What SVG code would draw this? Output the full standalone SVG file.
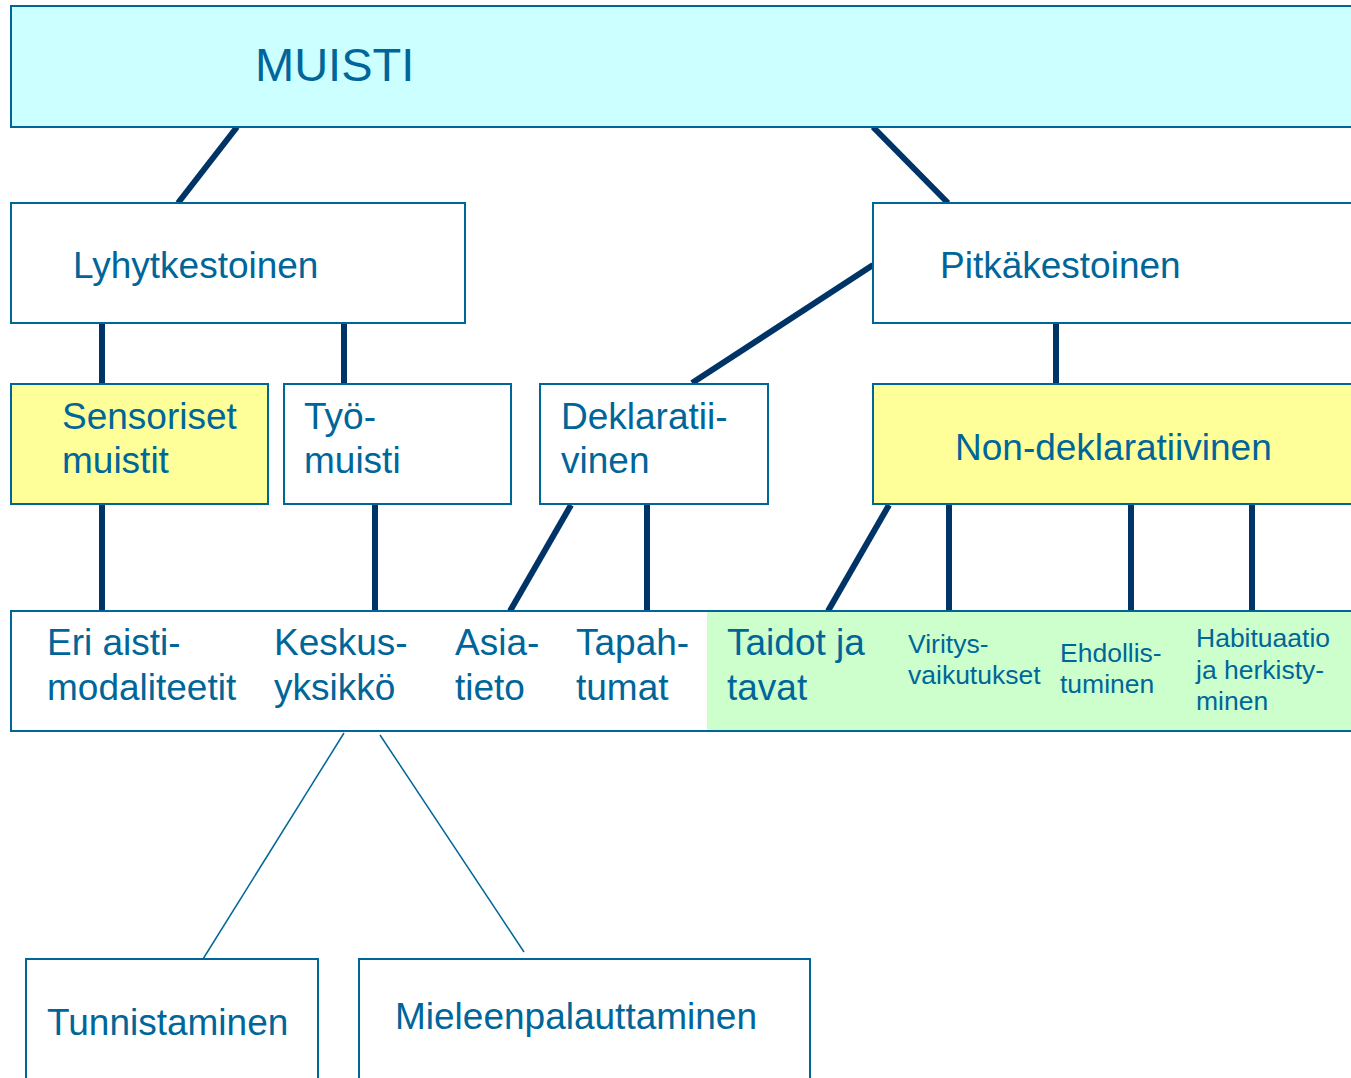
<svg xmlns="http://www.w3.org/2000/svg" width="1351" height="1078" viewBox="0 0 1351 1078">
<style>
.box{stroke:#006699;stroke-width:2}
.t{font-family:"Liberation Sans",Arial,sans-serif;fill:#006699;font-size:37px}
.s{font-size:26.5px}
.thick{stroke:#003366;stroke-width:6;fill:none}
.thin{stroke:#006699;stroke-width:1.5;fill:none}
</style>
<rect width="1351" height="1078" fill="#ffffff"/>
<g id="connectors">
<line class="thick" x1="237" y1="127" x2="178" y2="203"/>
<line class="thick" x1="873" y1="127" x2="948" y2="203"/>
<line class="thick" x1="873" y1="265" x2="692" y2="383"/>
<line class="thick" x1="1056" y1="323" x2="1056" y2="384"/>
<line class="thick" x1="102" y1="323" x2="102" y2="384"/>
<line class="thick" x1="344" y1="323" x2="344" y2="384"/>
<line class="thick" x1="102" y1="504" x2="102" y2="611"/>
<line class="thick" x1="375" y1="504" x2="375" y2="611"/>
<line class="thick" x1="571" y1="505" x2="510" y2="611"/>
<line class="thick" x1="647" y1="504" x2="647" y2="611"/>
<line class="thick" x1="889" y1="505" x2="828" y2="611"/>
<line class="thick" x1="949" y1="504" x2="949" y2="611"/>
<line class="thick" x1="1131" y1="504" x2="1131" y2="611"/>
<line class="thick" x1="1252" y1="504" x2="1252" y2="611"/>
<line class="thin" x1="344" y1="733" x2="203" y2="959"/>
<line class="thin" x1="380" y1="735" x2="524" y2="952"/>
</g>
<g id="muisti">
<rect class="box" x="11" y="6" width="1350" height="121" fill="#CCFFFF"/>
<text class="t" x="255" y="81" style="font-size:47px">MUISTI</text>
</g>
<g id="lyhytkestoinen">
<rect class="box" x="11" y="203" width="454" height="120" fill="#ffffff"/>
<text class="t" x="73" y="278">Lyhytkestoinen</text>
</g>
<g id="pitkakestoinen">
<rect class="box" x="873" y="203" width="488" height="120" fill="#ffffff"/>
<text class="t" x="940" y="278">Pitkäkestoinen</text>
</g>
<g id="sensoriset">
<rect class="box" x="11" y="384" width="257" height="120" fill="#FFFF99"/>
<text class="t" x="62" y="429">Sensoriset</text>
<text class="t" x="62" y="473">muistit</text>
</g>
<g id="tyomuisti">
<rect class="box" x="284" y="384" width="227" height="120" fill="#ffffff"/>
<text class="t" x="304" y="429">Työ-</text>
<text class="t" x="304" y="473">muisti</text>
</g>
<g id="deklaratiivinen">
<rect class="box" x="540" y="384" width="228" height="120" fill="#ffffff"/>
<text class="t" x="561" y="429">Deklaratii-</text>
<text class="t" x="561" y="473">vinen</text>
</g>
<g id="nondeklaratiivinen">
<rect class="box" x="873" y="384" width="488" height="120" fill="#FFFF99"/>
<text class="t" x="955" y="460">Non-deklaratiivinen</text>
</g>
<g id="row4">
<rect x="11" y="611" width="1350" height="120" fill="#ffffff"/>
<rect x="707" y="612" width="654" height="118" fill="#CCFFCC"/>
<rect class="box" x="11" y="611" width="1350" height="120" fill="none"/>
</g>
<g id="eri-aistimodaliteetit">
<text class="t" x="47" y="655">Eri aisti-</text>
<text class="t" x="47" y="700">modaliteetit</text>
</g>
<g id="keskusyksikko">
<text class="t" x="274" y="655">Keskus-</text>
<text class="t" x="274" y="700">yksikkö</text>
</g>
<g id="asiatieto">
<text class="t" x="455" y="655">Asia-</text>
<text class="t" x="455" y="700">tieto</text>
</g>
<g id="tapahtumat">
<text class="t" x="576" y="655">Tapah-</text>
<text class="t" x="576" y="700">tumat</text>
</g>
<g id="taidot">
<text class="t" x="727" y="655">Taidot ja</text>
<text class="t" x="727" y="700">tavat</text>
</g>
<g id="viritysvaikutukset">
<text class="t s" x="908" y="653">Viritys-</text>
<text class="t s" x="908" y="684">vaikutukset</text>
</g>
<g id="ehdollistuminen">
<text class="t s" x="1060" y="662">Ehdollis-</text>
<text class="t s" x="1060" y="693">tuminen</text>
</g>
<g id="habituaatio">
<text class="t s" x="1196" y="647">Habituaatio</text>
<text class="t s" x="1196" y="679">ja herkisty-</text>
<text class="t s" x="1196" y="710">minen</text>
</g>
<g id="tunnistaminen">
<rect class="box" x="26" y="959" width="292" height="130" fill="#ffffff"/>
<text class="t" x="47" y="1035">Tunnistaminen</text>
</g>
<g id="mieleenpalauttaminen">
<rect class="box" x="359" y="959" width="451" height="130" fill="#ffffff"/>
<text class="t" x="395" y="1029">Mieleenpalauttaminen</text>
</g>
</svg>
